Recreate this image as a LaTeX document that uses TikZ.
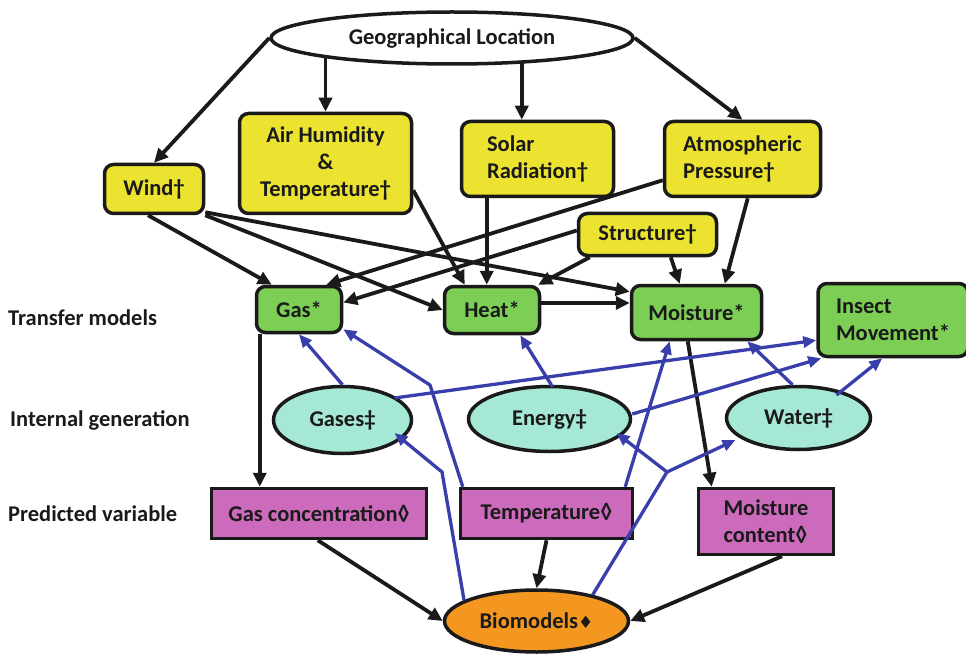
\documentclass[tikz,border=0pt]{standalone}
\usepackage{fontspec}
\setmainfont{Carlito}
\newfontfamily\symfont{DejaVu Sans}
\usetikzlibrary{arrows.meta,calc,backgrounds,shapes.geometric}
\definecolor{bc}{RGB}{26,26,26}
\definecolor{yel}{RGB}{235,227,48}
\definecolor{grn}{RGB}{125,206,85}
\definecolor{cyn}{RGB}{166,232,214}
\definecolor{pur}{RGB}{204,106,187}
\definecolor{org}{RGB}{243,151,32}
\definecolor{blu}{RGB}{56,62,170}
\begin{document}
\begin{tikzpicture}[x=1pt,y=-1pt,
  font=\fontsize{22.5}{27}\selectfont\bfseries,
  base/.style={draw=bc, line width=3.5pt, inner sep=0pt, align=center, text=bc},
  ybox/.style={base, fill=yel, rounded corners=9pt},
  gbox/.style={base, fill=grn, rounded corners=9pt},
  pbox/.style={base, fill=pur},
  cell/.style={base, ellipse, fill=cyn},
  lbl/.style={anchor=west, inner sep=0pt, text=bc},
  blk/.style={draw=bc, line width=3.8pt, -{Triangle[length=14pt,width=13pt]}},
  bluarr/.style={draw=blu, line width=3.3pt, -{Triangle[length=13pt,width=11pt]}}]
\useasboundingbox (0,0) rectangle (966,655);
% nodes
\node[base, ellipse, fill=white, minimum width=362pt, minimum height=52pt] (geo) at (452,38) {Geographical Location};
\node[ybox, minimum width=99pt, minimum height=49pt] (wind) at (154,189) {Wind†};
\node[ybox, minimum width=172pt, minimum height=100pt] (air) at (325.5,163.5) {Air Humidity\\\&\\Temperature†};
\node[ybox, minimum width=152pt, minimum height=75pt, align=left] (solar) at (537.5,159) {Solar\\Radiation†};
\node[ybox, minimum width=156pt, minimum height=75pt, align=left] (atm) at (742.5,159) {Atmospheric\\Pressure†};
\node[ybox, minimum width=138pt, minimum height=42pt] (struct) at (647.5,234.5) {Structure†};
\node[gbox, minimum width=85pt, minimum height=46pt] (gas) at (299,309.5) {Gas*};
\node[gbox, minimum width=95pt, minimum height=47pt] (heat) at (492,310) {Heat*};
\node[gbox, minimum width=130pt, minimum height=54pt] (moist) at (696.5,312.5) {Moisture*};
\node[gbox, minimum width=150pt, minimum height=73pt, align=left] (ins) at (893,320) {Insect\\Movement*};
\node[cell, minimum width=138pt, minimum height=67pt] (gases) at (342.5,420) {Gases‡};
\node[cell, minimum width=162pt, minimum height=65pt] (energy) at (549.5,419) {Energy‡};
\node[cell, minimum width=144pt, minimum height=63pt] (water) at (798.5,418) {Water‡};
\node[pbox, minimum width=215pt, minimum height=50pt] (gc) at (319,513.5) {Gas concentration◊};
\node[pbox, minimum width=172pt, minimum height=50pt] (temp) at (546.5,513.5) {Temperature◊};
\node[pbox, minimum width=135pt, minimum height=66pt, align=left] (mc) at (766,521.5) {Moisture\\content◊};
\node[base, ellipse, fill=org, minimum width=184pt, minimum height=62pt] (bio) at (536.5,621) {Biomodels{\symfont\fontsize{17}{20}\selectfont ♦}};
\node[lbl] (l1) at (8,318) {Transfer models};
\node[lbl] (l2) at (10,420) {Internal generation};
\node[lbl] (l3) at (8,514) {Predicted variable};
% black connectors
\begin{pgfonlayer}{background}
\path ($(solar.north west)+(62,0)$) coordinate (sn);
\draw[blk] (geo.west) -- (wind.north);
\draw[blk] (air.north |- geo.center) -- (air.north);
\draw[blk] (sn |- geo.center) -- (sn);
\draw[blk] (geo.east) -- (atm.north);
\draw[blk] ($(wind.south)+(-6,0)$) -- ($(gas.north west)+(17,0)$);
\draw[blk] (wind.south east) -- (heat.west);
\draw[blk] ($(wind.south east)+(0,-3)$) -- ($(moist.north west)+(0,8)$);
\draw[blk] ($(air.south east)+(0,-25)$) -- ($(heat.north west)+(22,0)$);
\draw[blk] ($(solar.south west)+(27,0)$) -- ($(heat.north west)+(44,0)$);
\draw[blk] ($(atm.south west)+(0,-18)$) -- ($(gas.north east)+(-17,0)$);
\draw[blk] ($(struct.west)+(0,-4)$) -- ($(gas.east)+(0,-7)$);
\draw[blk] ($(struct.south west)+(13,0)$) -- ($(heat.north east)+(-3,0)$);
\draw[blk] ($(struct.south west)+(94,0)$) -- ($(moist.north west)+(50,0)$);
\draw[blk] ($(atm.south west)+(85,0)$) -- ($(moist.north west)+(95,0)$);
\draw[blk] ($(heat.east)+(0,-7)$) coordinate (hm) -- (hm -| moist.west);
\draw[blk] ($(gas.south west)+(5,0)$) -- ($(gc.north west)+(50,0)$);
\draw[blk] ($(moist.south west)+(58,0)$) -- ($(mc.north west)+(15,0)$);
\draw[blk] ($(gc.south west)+(108,0)$) -- (bio.west);
\draw[blk] (temp.south) -- (bio.north);
\draw[blk] ($(mc.south)+(16,0)$) -- (bio.east);
\end{pgfonlayer}
% blue connectors
\coordinate (kb) at (430,385);
\coordinate (kc) at (442,472);
\coordinate (kh) at (667,472);
\draw[bluarr] (gases.north) -- (gas.south);
\draw[bluarr] ($(temp.north west)+(4,0)$) -- (kb) -- ($(gas.south east)+(0,-5)$);
\draw[bluarr] (bio.164) -- (kc) -- ($(gases.center)+(52,13)$);
\draw[bluarr] ($(gases.center)+(52,-22)$) -- ($(ins.south west)+(0,-18)$);
\draw[bluarr] ($(energy.north)+(3,2)$) -- ($(heat.south east)+(-21,0)$);
\draw[bluarr] ($(energy.east)+(0,-5)$) -- ($(ins.south west)+(5,0)$);
\draw[bluarr] ($(temp.north east)+(-9,0)$) -- ($(moist.south west)+(40,0)$);
\draw[bluarr] (bio.25) -- (kh) -- ($(energy.center)+(67,14)$);
\draw[bluarr] (kh) -- ($(water.center)+(-63,22)$);
\draw[bluarr] ($(water.north)+(-6,0)$) -- ($(moist.south east)+(-16,0)$);
\draw[bluarr] ($(water.center)+(38,-23)$) -- ($(ins.south west)+(66,0)$);
\end{tikzpicture}
\end{document}
